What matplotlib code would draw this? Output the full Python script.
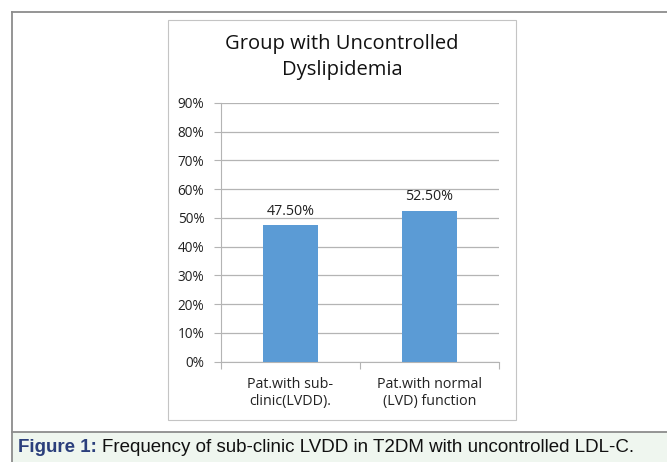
import matplotlib.pyplot as plt
from matplotlib.patches import Rectangle
from matplotlib.lines import Line2D
from matplotlib.ticker import MultipleLocator, FuncFormatter

# data
categories = ['Pat.with sub-\nclinic(LVDD).', 'Pat.with normal\n(LVD) function']
values = [47.5, 52.5]
value_labels = ['47.50%', '52.50%']

W, H = 667, 462
fig = plt.figure(figsize=(W / 100, H / 100), dpi=100)

def fx(x):
    return x / W

def fy(y):
    return 1 - y / H

# caption panel
fig.patches.append(Rectangle((fx(11.5), 0), 1 - fx(11.5), fy(432),
                             transform=fig.transFigure, facecolor='#eff6ef',
                             edgecolor='none', zorder=0))
# outer frame lines
frame = '#8c8c8c'
fig.lines.append(Line2D([fx(11.5), 1], [fy(11.5), fy(11.5)], transform=fig.transFigure, color=frame, lw=1.3))
fig.lines.append(Line2D([fx(11.5), fx(11.5)], [fy(11.5), 0], transform=fig.transFigure, color=frame, lw=1.3))
fig.lines.append(Line2D([fx(11.5), 1], [fy(432), fy(432)], transform=fig.transFigure, color=frame, lw=1.3))
# chart area box
fig.patches.append(Rectangle((fx(167.5), fy(420)), fx(516) - fx(167.5), fy(20) - fy(420),
                             transform=fig.transFigure, facecolor='white',
                             edgecolor='#c4c4c4', lw=0.8, zorder=1))

ax = fig.add_axes([fx(221), fy(361.7), fx(499) - fx(221), fy(103) - fy(361.7)])
ax.set_zorder(2)
ax.patch.set_alpha(0)

x = range(len(categories))
bars = ax.bar(x, values, width=0.4, color='#5b9bd5', zorder=3)
for b, lab in zip(bars, value_labels):
    ax.text(b.get_x() + b.get_width() / 2, b.get_height() + 2.2, lab,
            ha='center', va='bottom', fontsize=10.3, family='Open Sans', color='#222222')

ax.set_xlim(-0.5, 1.5)
ax.set_ylim(0, 90)
ax.yaxis.set_major_locator(MultipleLocator(10))
ax.yaxis.set_major_formatter(FuncFormatter(lambda v, p: f'{v:.0f}%'))
ax.grid(axis='y', color='#b4b4b4', lw=0.9, zorder=0)
for s in ['top', 'right']:
    ax.spines[s].set_visible(False)
for s in ['left', 'bottom']:
    ax.spines[s].set_color('#b4b4b4')
ax.set_xticks([-0.5, 0.5, 1.5])
ax.set_xticklabels([])
ax.set_xticks(list(x), minor=True)
ax.set_xticklabels(categories, minor=True, fontsize=10.3, family='Open Sans', color='#222222')
ax.tick_params(axis='x', which='major', length=5, color='#b4b4b4')
ax.tick_params(axis='x', which='minor', length=0, pad=11)
ax.tick_params(axis='y', length=5, color='#b4b4b4', labelsize=9.8, pad=7, labelcolor='#222222')
for t in ax.get_yticklabels():
    t.set_family('Open Sans')

fig.text(fx(342), fy(57), 'Group with Uncontrolled\nDyslipidemia', ha='center', va='center',
         fontsize=14.5, family='Open Sans', color='#111111', linespacing=1.4)

# caption
t1 = fig.text(fx(18), fy(448), 'Figure 1:', ha='left', va='center', fontsize=13.5,
              family='Liberation Sans', weight='bold', color='#2b3f7c')
r = fig.canvas.get_renderer()
bb = t1.get_window_extent(r)
fig.text((bb.x1 + 5) / W, fy(448), 'Frequency of sub-clinic LVDD in T2DM with uncontrolled LDL-C.',
         ha='left', va='center', fontsize=13.5, family='Liberation Sans', color='#111111')

fig.savefig('out.png', dpi=100)
